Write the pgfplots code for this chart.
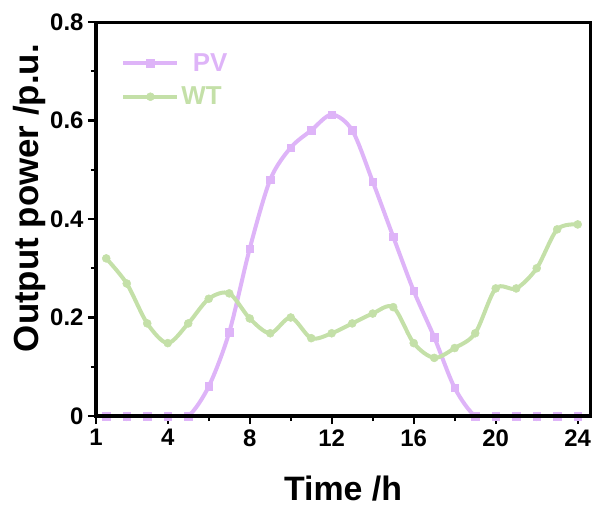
\documentclass[border=0pt]{standalone}
\usepackage{pgfplots}
\pgfplotsset{compat=1.18}
\usepackage{fontspec}
\setmainfont{Liberation Sans}
\definecolor{pvcol}{RGB}{222,180,248}
\definecolor{wtcol}{RGB}{196,224,168}
\begin{document}
\begin{tikzpicture}
\begin{axis}[
  scale only axis,
  width=494bp, height=394bp,
  xmin=0.5, xmax=24.6,
  ymin=0, ymax=0.8,
  axis line style={line width=2.8bp},
  xtick={0.5,4,8,12,16,20,24},
  xticklabels={1,4,8,12,16,20,24},
  minor xtick={2,6,10,14,18,22},
  ytick={0,0.2,0.4,0.6,0.8},
  yticklabels={0,0.2,0.4,0.6,0.8},
  minor ytick={0.1,0.3,0.5,0.7},
  tick align=outside,
  xtick pos=bottom, ytick pos=left,
  major tick length=8bp, minor tick length=5bp,
  every tick/.style={line width=2.4bp, black},
  /pgf/number format/assume math mode=true,
  tick label style={font=\bfseries\fontsize{24}{26}\selectfont},
  xticklabel style={yshift=-2bp},
  yticklabel style={xshift=-1bp},
  xlabel={Time /h},
  ylabel={Output power /p.u.},
  label style={font=\bfseries\fontsize{34}{36}\selectfont},
  xlabel style={at={(axis description cs:0.5,-0.185)}, anchor=center},
  ylabel style={at={(axis description cs:-0.134,0.553)}, anchor=center, font=\bfseries\fontsize{35}{36}\selectfont},
  legend style={at={(0.045,0.93)}, anchor=north west, draw=none, fill=none,
    font=\bfseries\fontsize{26}{28}\selectfont, row sep=10bp},
  legend cell align=left,
  legend image code/.code={
    \draw[#1] (0bp,0bp) -- (27bp,0bp) (27bp,0bp) -- (54bp,0bp);
    \draw[#1, only marks] plot coordinates {(27bp,0bp)};
  },
]
\addplot[pvcol, line width=4bp, smooth, tension=0.5, mark=square*, mark size=3.8bp, mark options={solid, fill=pvcol, draw=pvcol, line width=0.5bp}]
coordinates {
(1,0)(2,0)(3,0)(4,0)(5,0)(6,0.06)(7,0.17)(8,0.34)(9,0.48)(10,0.545)(11,0.58)(12,0.612)
(13,0.58)(14,0.476)(15,0.364)(16,0.254)(17,0.16)(18,0.057)(19,0)(20,0)(21,0)(22,0)(23,0)(24,0)
};
\addlegendentry{\textcolor{pvcol}{\, PV}}
\addplot[wtcol, line width=4bp, smooth, tension=0.5, mark=*, mark size=4bp, mark options={solid, fill=wtcol, draw=wtcol, line width=0.5bp}]
coordinates {
(1,0.32)(2,0.269)(3,0.188)(4,0.148)(5,0.188)(6,0.238)(7,0.249)(8,0.198)(9,0.168)(10,0.2)
(11,0.158)(12,0.168)(13,0.188)(14,0.208)(15,0.221)(16,0.148)(17,0.118)(18,0.138)(19,0.168)
(20,0.259)(21,0.259)(22,0.3)(23,0.379)(24,0.389)
};
\addlegendentry{\textcolor{wtcol}{WT}}
\end{axis}
\draw[black, line width=3bp] (current axis.south west) rectangle (current axis.north east);
\pgfresetboundingbox
\path (-96bp,-95bp) rectangle (506bp,416bp);
\end{tikzpicture}
\end{document}
